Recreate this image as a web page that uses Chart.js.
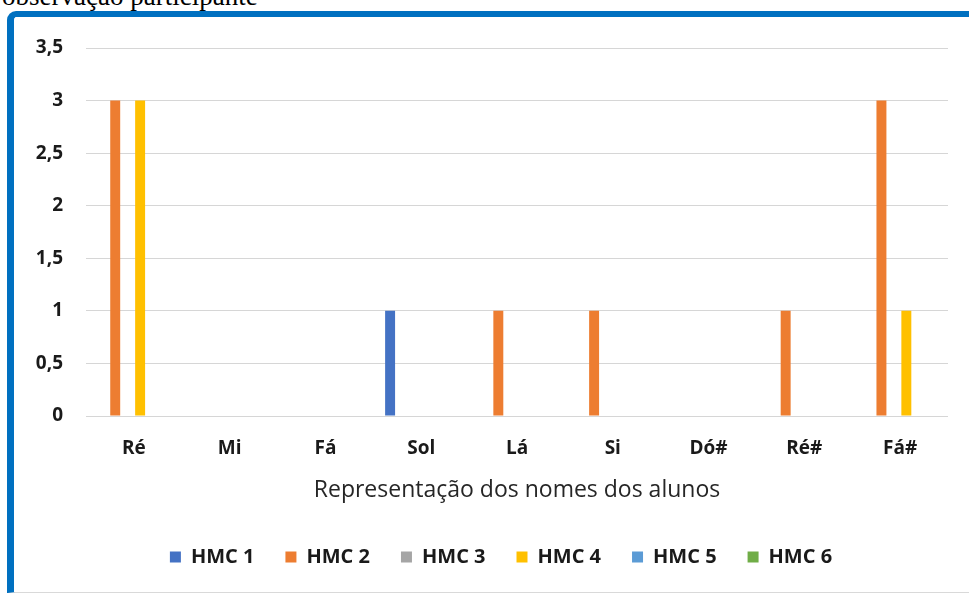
<!DOCTYPE html>
<html>
<head>
<meta charset="utf-8">
<script src="https://cdn.jsdelivr.net/npm/chart.js@4.4.1/dist/chart.umd.min.js"></script>
<style>
  html, body { margin: 0; padding: 0; background: #ffffff; overflow: hidden; }
  body { width: 969px; height: 597px; position: relative; }
  #caption {
    position: absolute; left: 2px; top: -17px;
    font-family: "Liberation Serif", "DejaVu Serif", serif;
    font-size: 27px; line-height: 27px; color: #000; white-space: nowrap;
  }
  #frame {
    position: absolute; left: 7px; top: 11px; width: 990px; height: 575px;
    border-top: 6px solid #0070C0; border-left: 7px solid #0070C0;
    border-bottom: 1px solid #d9d9d9;
    border-top-left-radius: 9px;
    background: #ffffff;
  }
  #wrap { position: absolute; left: 0; top: 0; width: 969px; height: 597px; }
</style>
</head>
<body>
<div id="caption">observação participante</div>
<div id="frame"></div>
<div id="wrap"><canvas id="chart"></canvas></div>
<script>
// Notes represented by the students' names
const categories = ['Ré', 'Mi', 'Fá', 'Sol', 'Lá', 'Si', 'Dó#', 'Ré#', 'Fá#'];

// Counts per note for each HMC group
const hmc1 = [0, 0, 0, 1, 0, 0, 0, 0, 0];
const hmc2 = [3, 0, 0, 0, 1, 1, 0, 1, 3];
const hmc3 = [0, 0, 0, 0, 0, 0, 0, 0, 0];
const hmc4 = [3, 0, 0, 0, 0, 0, 0, 0, 1];
const hmc5 = [0, 0, 0, 0, 0, 0, 0, 0, 0];
const hmc6 = [0, 0, 0, 0, 0, 0, 0, 0, 0];

const seriesNames = ['HMC 1', 'HMC 2', 'HMC 3', 'HMC 4', 'HMC 5', 'HMC 6'];
const seriesColors = ['#4472C4', '#ED7D31', '#A5A5A5', '#FFC000', '#5B9BD5', '#70AD47'];
const seriesValues = [hmc1, hmc2, hmc3, hmc4, hmc5, hmc6];

const axisTitle = 'Representação dos nomes dos alunos';
const yMin = 0, yMax = 3.5, yStep = 0.5;

const datasets = seriesValues.map((values, i) => ({
  label: seriesNames[i],
  data: values,
  backgroundColor: seriesColors[i],
  borderWidth: 0,
  barPercentage: 0.8,
  categoryPercentage: 0.78
}));

const baseFont = '"Open Sans", "Noto Sans", sans-serif';

// Nudge the legend row a little to the right of the canvas centre
const legendOffset = {
  id: 'legendOffset',
  afterLayout(chart) {
    if (chart.legend) {
      chart.legend.left += 27;
      chart.legend.right += 27;
    }
  }
};

new Chart(document.getElementById('chart'), {
  type: 'bar',
  data: { labels: categories, datasets },
  plugins: [legendOffset],
  options: {
    responsive: true,
    maintainAspectRatio: false,
    animation: false,
    layout: { padding: { top: 48, right: 21, bottom: 20, left: 0 } },
    plugins: {
      tooltip: { enabled: false },
      legend: {
        position: 'bottom',
        labels: {
          boxWidth: 11,
          boxHeight: 11,
          padding: 31,
          color: '#1a1a1a',
          font: { family: baseFont, size: 20, weight: 'bold' }
        }
      }
    },
    scales: {
      x: {
        grid: { display: false, drawTicks: false },
        border: { display: false },
        ticks: {
          padding: 21,
          color: '#1a1a1a',
          font: { family: baseFont, size: 19, weight: 'bold' }
        },
        title: {
          display: true,
          text: axisTitle,
          color: '#262626',
          padding: { top: 0, bottom: 12 },
          font: { family: baseFont, size: 23 }
        },
        afterFit(scale) { scale.height = 100; }
      },
      y: {
        min: yMin,
        max: yMax,
        grid: { color: '#d6d6d6', lineWidth: 1, drawTicks: false },
        border: { display: false },
        ticks: {
          stepSize: yStep,
          padding: 23,
          color: '#1a1a1a',
          font: { family: baseFont, size: 19, weight: 'bold' },
          callback: (v) => String(v).replace('.', ',')
        },
        afterFit(scale) { scale.width = 86; }
      }
    }
  }
});
</script>
</body>
</html>
